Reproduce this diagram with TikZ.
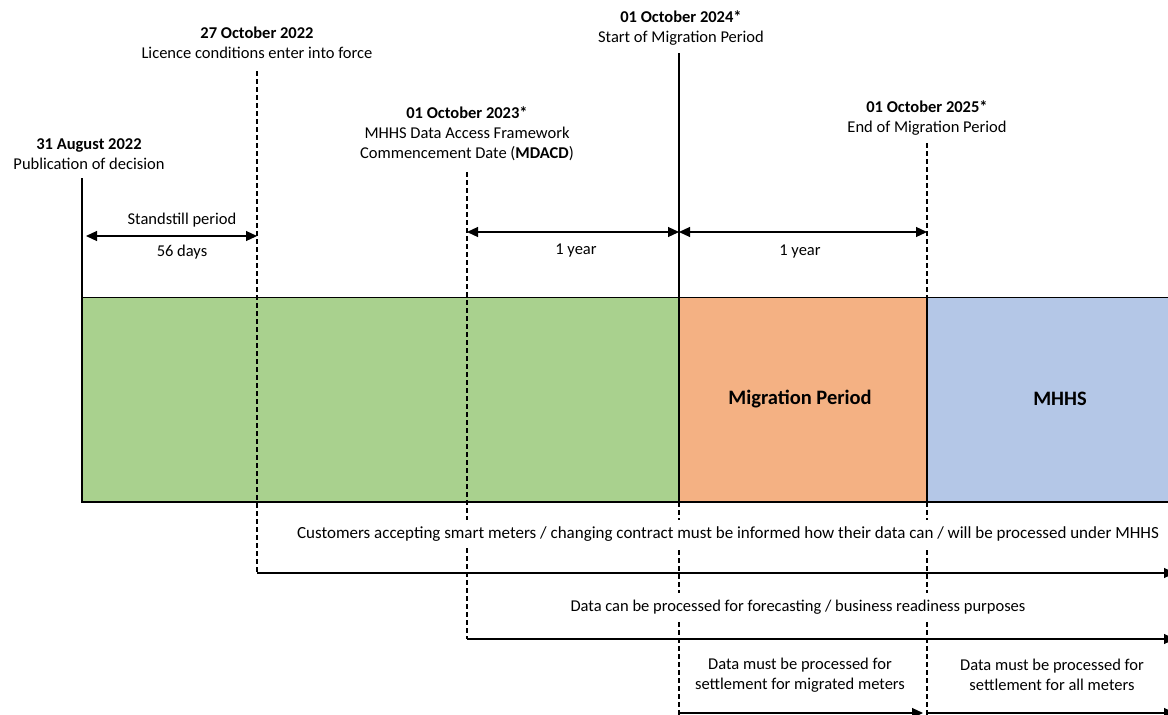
\documentclass[tikz,border=0pt]{standalone}
\usepackage{fontspec}
\setmainfont{Carlito}
\usetikzlibrary{arrows.meta}

\definecolor{greenbar}{HTML}{A9D18E}
\definecolor{orangebar}{HTML}{F4B183}
\definecolor{bluebar}{HTML}{B4C7E7}

\tikzset{
	txt/.style = {align=center, inner sep=0pt, font=\fontsize{16.5}{20}\selectfont},
	band/.style = {txt, fill=white, inner xsep=4pt, inner ysep=7pt},
	big/.style = {inner sep=0pt, font=\fontsize{20.5}{24}\selectfont\bfseries},
	milestone/.style = {line width=1.1pt},
	milestonedash/.style = {line width=1.1pt, dash pattern=on 5pt off 3pt},
	span/.style = {line width=1.2pt, {Triangle[length=11pt,width=10pt]}-{Triangle[length=11pt,width=10pt]}},
	goes/.style = {line width=1.2pt, -{Triangle[length=11pt,width=10pt]}}
}

\begin{document}
\begin{tikzpicture}[x=1pt,y=-1pt]

			\def\bartop{297.5}
			\def\barbot{502}

			\useasboundingbox (0,0) rectangle (1168,715);

			\fill[greenbar] (82,\bartop) rectangle (679,\barbot);
			\fill[orangebar] (679,\bartop) rectangle (927,\barbot);
			\fill[bluebar] (927,\bartop) rectangle (1180,\barbot);

			\coordinate (dec) at (82,178);
			\coordinate (lic) at (257,71);
			\coordinate (mda) at (467,172);
			\coordinate (mst) at (679,53);
			\coordinate (men) at (927,143);

			\coordinate (dec-b) at (82,\barbot);
			\coordinate (lic-b) at (257,573);
			\coordinate (mda-b) at (467,639);
			\coordinate (mst-t) at (679,\bartop);
			\coordinate (mst-s) at (679,\barbot);
			\coordinate (mst-b) at (679,715);
			\coordinate (men-t) at (927,\bartop);
			\coordinate (men-s) at (927,\barbot);
			\coordinate (men-b) at (927,715);

			\draw[milestonedash] (lic) -- (lic-b);
			\draw[milestonedash] (mda) -- (mda-b);
			\draw[milestonedash] (mst-s) -- (mst-b);
			\draw[milestonedash] (men) -- (men-t);
			\draw[milestonedash] (men-s) -- (men-b);
			\draw[milestone] (dec) -- (dec-b);
			\draw[milestone] (mst) -- (mst-s);

			\draw[milestone] (1180,\bartop) -- (82,\bartop) -- (dec-b) -- (1180,\barbot);
			\draw[milestone] (men-t) -- (men-s);

			\node[txt] (decision) at (89,154) {\textbf{31 August 2022}\\Publication of decision};
			\node[txt] (licence) at (257,43) {\textbf{27 October 2022}\\Licence conditions enter into force};
			\node[txt] (mdacd) at (467,134) {\textbf{01 October 2023*}\\MHHS Data Access Framework\\Commencement Date (\textbf{MDACD})};
			\node[txt] (migstart) at (681,28) {\textbf{01 October 2024*}\\Start of Migration Period};
			\node[txt] (migend) at (927,118) {\textbf{01 October 2025*}\\End of Migration Period};

			\coordinate (ss-l) at (86,236);
			\coordinate (ss-r) at (257,236);
			\draw[span] (ss-l) -- (ss-r);
			\node[txt] (standstill) at (182,220) {Standstill period};
			\node[txt] (days) at (182,252) {56 days};

			\coordinate (y1-l) at (467,232);
			\coordinate (y1-r) at (679,232);
			\coordinate (y2-r) at (927,232);
			\draw[span] (y1-l) -- (y1-r);
			\draw[span] (y1-r) -- (y2-r);
			\node[txt] (yearone) at (576,251) {1 year};
			\node[txt] (yeartwo) at (800,252) {1 year};

			\node[big] (migration) at (800,399) {Migration Period};
			\node[big] (mhhs) at (1060,399) {MHHS};

			\coordinate (cust-r) at (1175,573);
			\draw[goes] (lic-b) -- (cust-r);
			\node[band, font=\fontsize{17}{20}\selectfont] (customers) at (728,534) {Customers accepting smart meters / changing contract must be informed how their data can / will be processed under MHHS};

			\coordinate (fore-r) at (1175,639);
			\draw[goes] (mda-b) -- (fore-r);
			\node[band] (forecast) at (798,607) {Data can be processed for forecasting / business readiness purposes};

			\coordinate (sm-l) at (679,713);
			\coordinate (sm-r) at (923,713);
			\coordinate (sa-l) at (927,713);
			\coordinate (sa-r) at (1175,713);
			\draw[goes] (sm-l) -- (sm-r);
			\draw[goes] (sa-l) -- (sa-r);
			\node[txt] (settlemig) at (800,675) {Data must be processed for\\settlement for migrated meters};
			\node[txt] (settleall) at (1052,675) {Data must be processed for\\settlement for all meters};

		\end{tikzpicture}
\end{document}
